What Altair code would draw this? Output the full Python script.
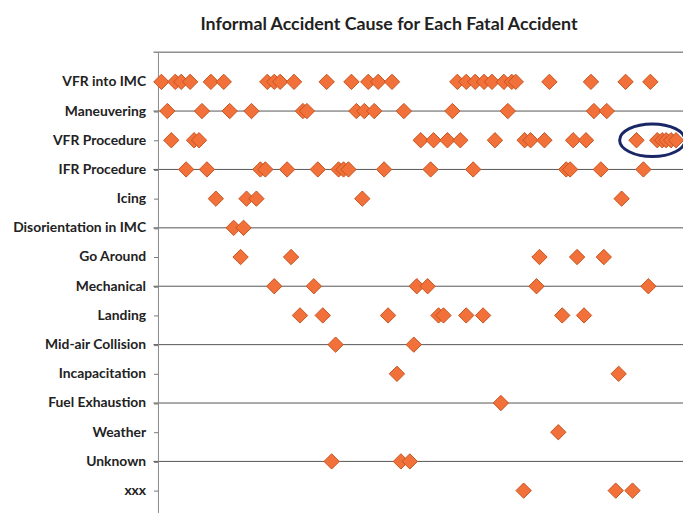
import altair as alt
import pandas as pd

causes = ["VFR into IMC", "Maneuvering", "VFR Procedure", "IFR Procedure", "Icing",
          "Disorientation in IMC", "Go Around", "Mechanical", "Landing",
          "Mid-air Collision", "Incapacitation", "Fuel Exhaustion", "Weather",
          "Unknown", "xxx"]

vfr_into_imc = [3, 17, 23, 32, 53, 66, 110, 117, 123, 137, 170, 195, 212, 222, 236,
                302, 311, 320, 329, 337, 349, 357, 361, 395, 437, 472, 497]
maneuvering = [9, 44, 72, 94, 146, 150, 200, 208, 218, 248, 297, 353, 440, 453]
vfr_procedure = [13, 36, 41, 265, 278, 292, 305, 340, 370, 376, 390, 419, 432, 483,
                 504, 509, 513, 518, 523]
ifr_procedure = [28, 49, 103, 108, 130, 161, 182, 187, 192, 228, 275, 318, 412, 416,
                 447, 490]
icing = [58, 89, 99, 206, 468]
disorientation = [76, 86]
go_around = [83, 134, 385, 423, 450]
mechanical = [117, 157, 261, 272, 382, 495]
landing = [143, 166, 232, 283, 288, 311, 328, 408, 430]
mid_air = [179, 258]
incapacitation = [241, 465]
fuel_exhaustion = [346]
weather = [404]
unknown = [175, 245, 254]
xxx = [369, 462, 479]

series = [vfr_into_imc, maneuvering, vfr_procedure, ifr_procedure, icing,
          disorientation, go_around, mechanical, landing, mid_air, incapacitation,
          fuel_exhaustion, weather, unknown, xxx]

lined_rows = ["Maneuvering", "IFR Procedure", "Disorientation in IMC", "Mechanical",
              "Mid-air Collision", "Fuel Exhaustion", "Unknown"]

highlight_cause = ["VFR Procedure"]
highlight_center = [499]

rows = [{"cause": c, "accident": v} for c, vals in zip(causes, series) for v in vals]
df = pd.DataFrame(rows)
df_lines = pd.DataFrame({"cause": lined_rows})
df_hl = pd.DataFrame({"cause": highlight_cause, "accident": highlight_center})
df_one = pd.DataFrame({"k": [0]})

W, H = 530, 463

yscale = alt.Scale(type="point", domain=causes, range=[30, 443], padding=0)
xscale = alt.Scale(domain=[0, 530], nice=False, zero=False)

y_enc = alt.Y("cause:N", scale=yscale, sort=causes,
              axis=alt.Axis(title=None, domain=False, ticks=True, tickSize=5,
                            tickColor="#777777", tickWidth=1, grid=False,
                            labelFont="Lato", labelFontWeight="bold",
                            labelFontSize=14, labelColor="#222222",
                            labelPadding=8))
x_enc = alt.X("accident:Q", scale=xscale, axis=None)

grid = alt.Chart(df_lines).mark_rule(color="#555555", strokeWidth=1).encode(
    y=y_enc, x=alt.value(-5), x2=alt.value(W))

top_line = alt.Chart(df_one).mark_rule(color="#555555", strokeWidth=1).encode(
    x=alt.value(-5), x2=alt.value(W), y=alt.value(0))

axis_line = alt.Chart(df_one).mark_rule(color="#888888", strokeWidth=1).encode(
    x=alt.value(0), y=alt.value(0), y2=alt.value(H + 10))

points = alt.Chart(df).mark_point(
    shape="diamond", filled=True, size=240, fill="#F2703A", stroke="#C4541F",
    strokeWidth=1, opacity=1).encode(x=x_enc, y=y_enc)

ellipse = alt.Chart(df_hl).mark_point(
    shape="M -1 0 A 1 0.5 0 1 0 1 0 A 1 0.5 0 1 0 -1 0 Z", size=66 * 66,
    filled=False, stroke="#1A2766", strokeWidth=3, opacity=1).encode(x=x_enc, y=y_enc)

chart = alt.layer(grid, top_line, axis_line, points, ellipse).properties(
    width=W, height=H,
    title=alt.TitleParams("Informal Accident Cause for Each Fatal Accident",
                          font="Lato", fontSize=18, fontWeight="bold",
                          color="#222222", anchor="middle", dx=-32, offset=18),
    autosize=alt.AutoSizeParams(type="none"),
    padding={"left": 152, "top": 42, "right": 0, "bottom": 0},
).configure_view(stroke=None)

chart.save("out.html", embed_options={"renderer": "svg", "actions": False})
